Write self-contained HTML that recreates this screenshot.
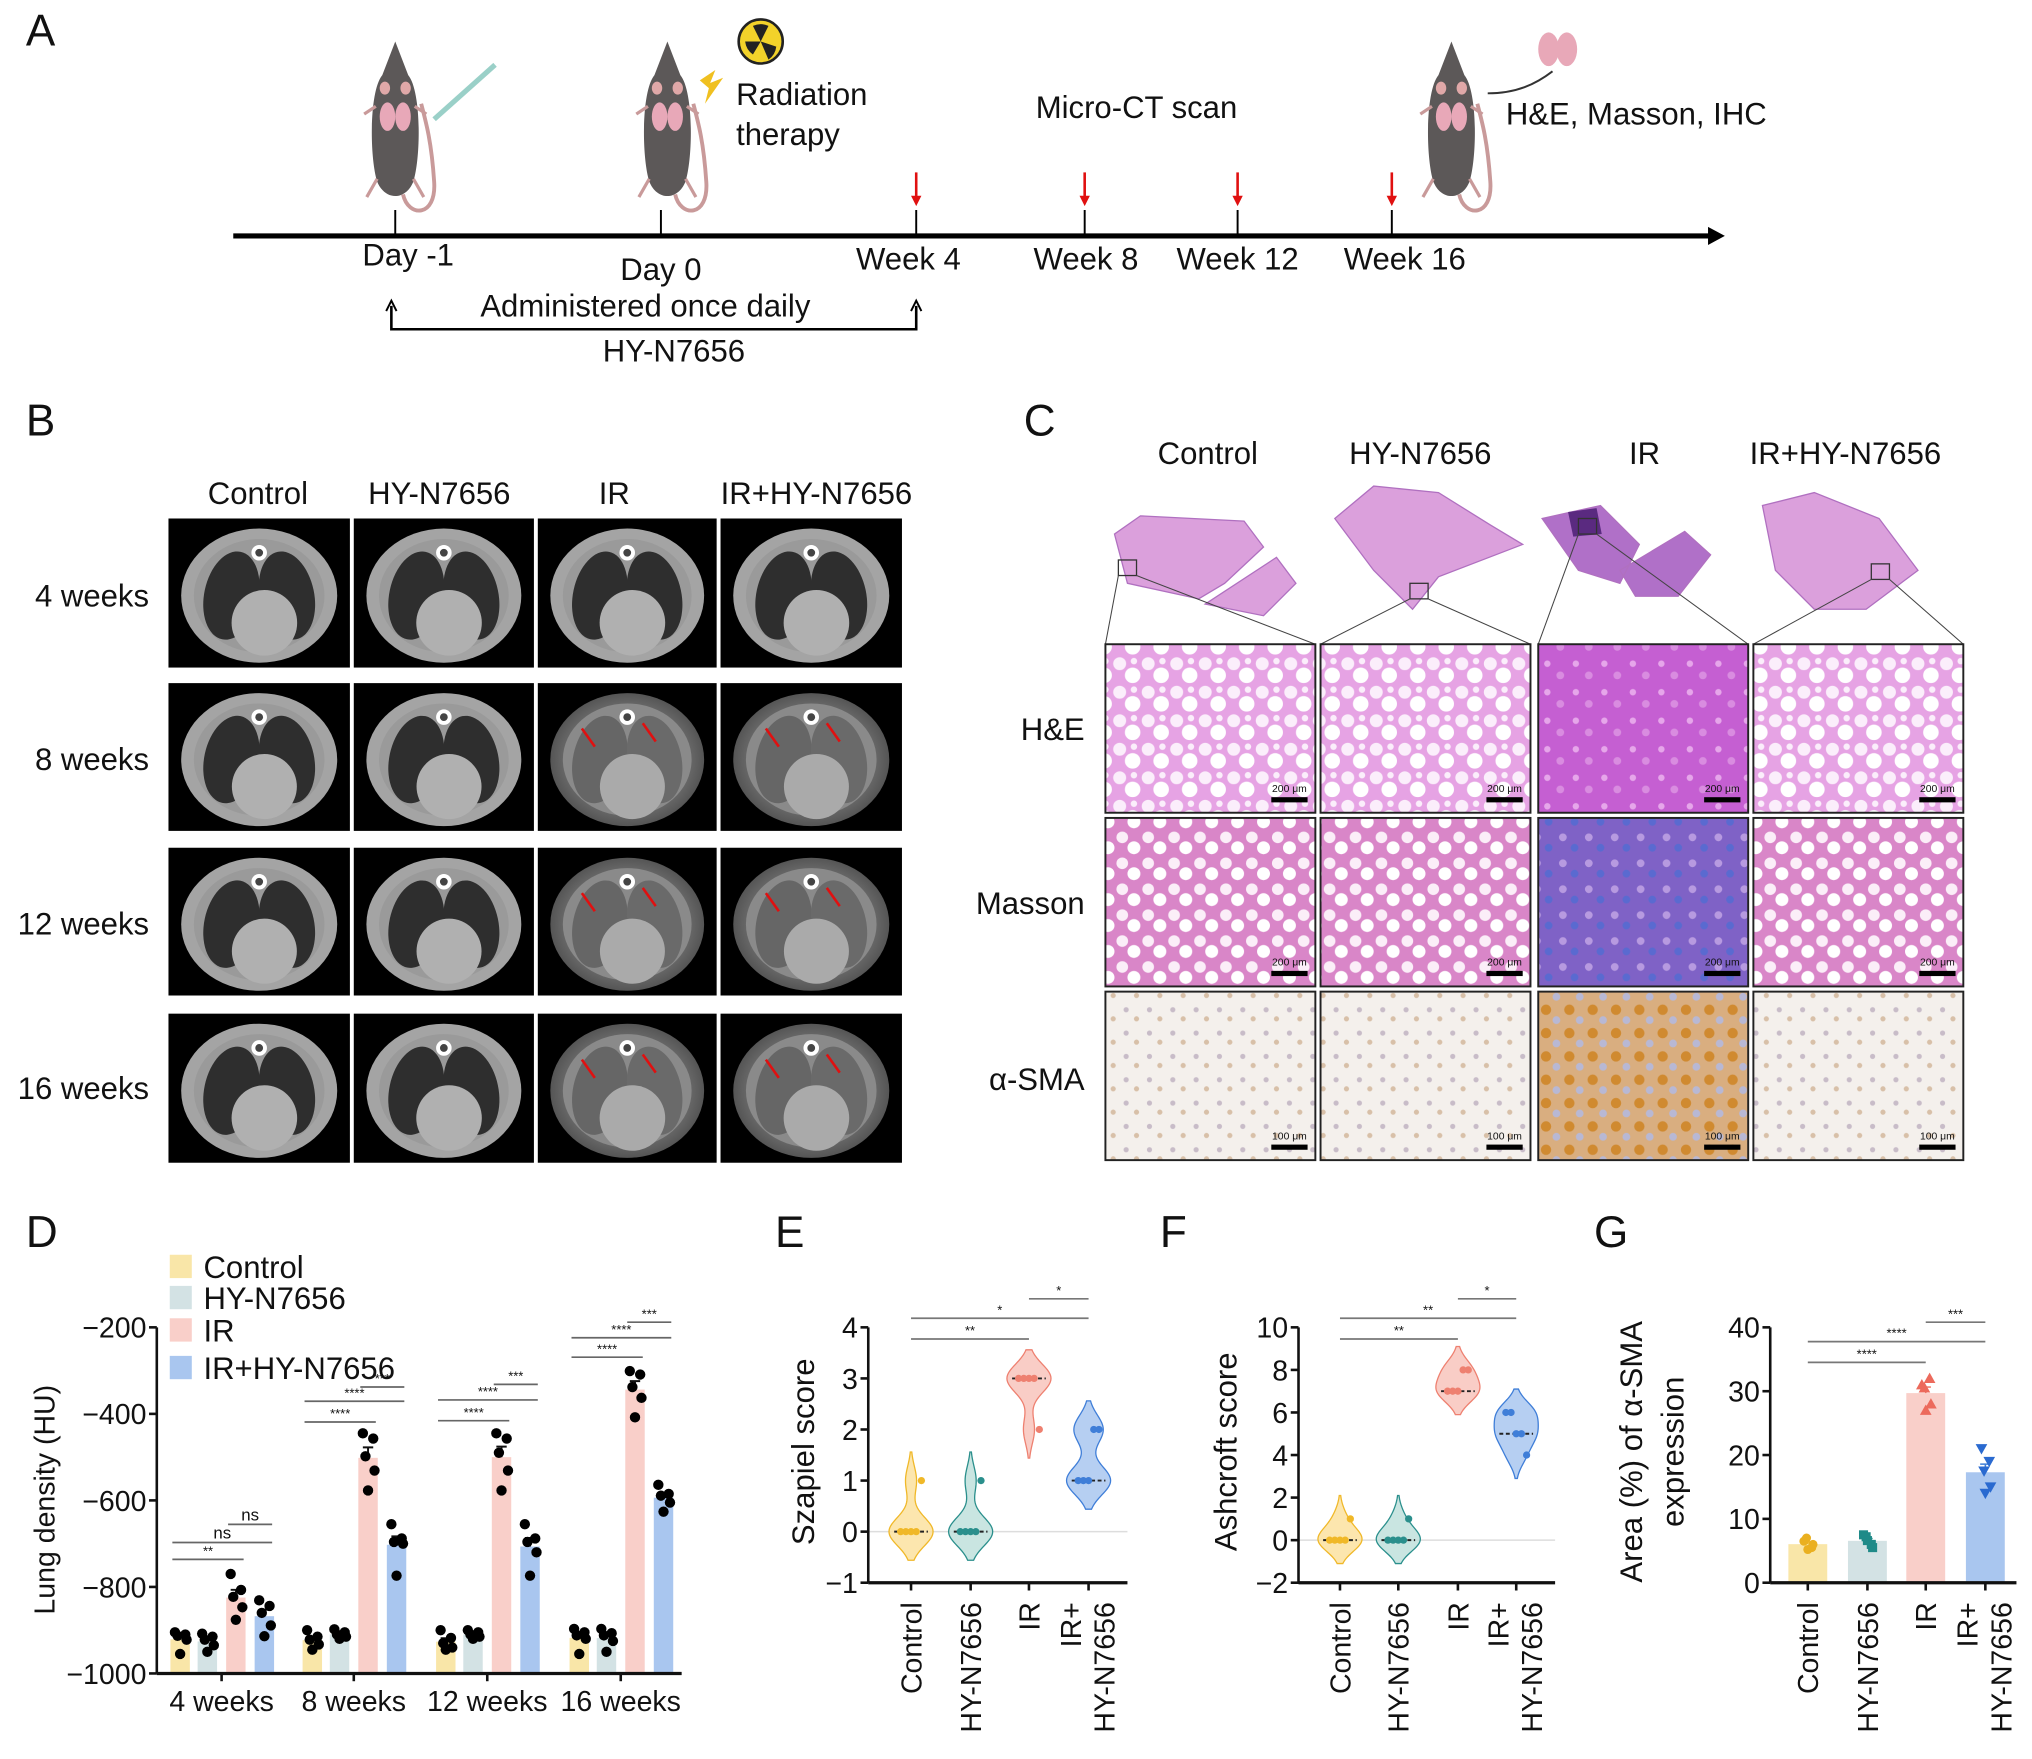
<!DOCTYPE html>
<html><head><meta charset="utf-8">
<style>
html,body{margin:0;padding:0;background:#fff;}
svg{display:block;font-family:"Liberation Sans",sans-serif;}
text{font-family:"Liberation Sans","DejaVu Sans",sans-serif;}
</style></head>
<body>
<svg id="fig" xmlns="http://www.w3.org/2000/svg" width="2032" height="1759" viewBox="0 0 1568 1357" preserveAspectRatio="none">
<defs>
<pattern id="pHE" width="22" height="22" patternUnits="userSpaceOnUse"><rect width="22" height="22" fill="#e6a3e4"/><circle cx="6" cy="6" r="5" fill="#fbeefb"/><circle cx="16" cy="15" r="6" fill="#fff"/><circle cx="17" cy="4" r="2.5" fill="#fbeefb"/></pattern>
<pattern id="pHEir" width="22" height="22" patternUnits="userSpaceOnUse"><rect width="22" height="22" fill="#c55fd2"/><circle cx="6" cy="6" r="2.5" fill="#e6a6ea"/><circle cx="16" cy="15" r="3" fill="#d98ce0"/></pattern>
<pattern id="pMS" width="20" height="20" patternUnits="userSpaceOnUse"><rect width="20" height="20" fill="#d986c8"/><circle cx="6" cy="6" r="4.5" fill="#fbeef8"/><circle cx="15" cy="14" r="5" fill="#fff"/></pattern>
<pattern id="pMSir" width="20" height="20" patternUnits="userSpaceOnUse"><rect width="20" height="20" fill="#7f62c6"/><circle cx="6" cy="6" r="3" fill="#b79ae0"/><circle cx="15" cy="14" r="3" fill="#5a6ad0"/></pattern>
<pattern id="pSM" width="18" height="18" patternUnits="userSpaceOnUse"><rect width="18" height="18" fill="#f4f0ec"/><circle cx="5" cy="5" r="2" fill="#c8bcc8"/><circle cx="13" cy="12" r="2" fill="#d8c0a8"/></pattern>
<pattern id="pSMir" width="18" height="18" patternUnits="userSpaceOnUse"><rect width="18" height="18" fill="#d9ae80"/><circle cx="5" cy="5" r="4" fill="#d08a30"/><circle cx="13" cy="13" r="3" fill="#b8b8d4"/></pattern>
<radialGradient id="gIR"><stop offset="0" stop-color="#bdbdbd"/><stop offset="1" stop-color="#555"/></radialGradient>
</defs>
</svg>
<script>
const NS='http://www.w3.org/2000/svg';
const svg=document.getElementById('fig');
function mk(tag,attrs,parent){const e=document.createElementNS(NS,tag);for(const k in attrs)e.setAttribute(k,attrs[k]);(parent||svg).appendChild(e);return e;}
function tx(str,x,y,size,anchor,parent,extra){const e=mk('text',Object.assign({x:x,y:y,'font-size':size,'text-anchor':anchor||'start',fill:'#111'},extra||{}),parent);e.textContent=str;return e;}

/* ================= Panel A ================= */
const gA=mk('g',{});


let t=tx('A',20,35,34,'start',gA);

mk('line',{x1:180,y1:182,x2:1320,y2:182,stroke:'#000','stroke-width':4},gA);
mk('path',{d:'M1318,175 L1331,182 L1318,189 Z',fill:'#000'},gA);
const aTicks=[305,510,707,837,955,1074];
aTicks.forEach(x=>mk('line',{x1:x,y1:162,x2:x,y2:182,stroke:'#000','stroke-width':1.5},gA));
[707,837,955,1074].forEach(x=>{mk('line',{x1:x,y1:133,x2:x,y2:154,stroke:'#e01010','stroke-width':2},gA);mk('path',{d:`M${x-4},151 L${x},159 L${x+4},151 Z`,fill:'#e01010'},gA);});
tx('Day -1',315,205,24,'middle',gA);tx('Day 0',510,216,24,'middle',gA);
tx('Week 4',701,208,24,'middle',gA);tx('Week 8',838,208,24,'middle',gA);tx('Week 12',955,208,24,'middle',gA);tx('Week 16',1084,208,24,'middle',gA);
tx('Administered once daily',498,244,24,'middle',gA);tx('HY-N7656',520,279,24,'middle',gA);
mk('path',{d:'M302,236 L302,254 L707,254 L707,236',fill:'none',stroke:'#000','stroke-width':2},gA);
mk('path',{d:'M298,240 L302,232 L306,240',fill:'none',stroke:'#000','stroke-width':1.5},gA);
mk('path',{d:'M703,240 L707,232 L711,240',fill:'none',stroke:'#000','stroke-width':1.5},gA);
tx('Radiation',568,81,24,'start',gA);tx('therapy',568,112,24,'start',gA);
tx('Micro-CT scan',877,91,24,'middle',gA);tx('H&E, Masson, IHC',1162,96,24,'start',gA);
function mouse(cx){
  const g=mk('g',{},gA);
  
  mk('path',{d:`M${cx+6},150 C${cx+10},168 ${cx+32},168 ${cx+30},140 C${cx+28},110 ${cx+24},95 ${cx+20},80`,fill:'none',stroke:'#c99a9a','stroke-width':3},g);
  mk('path',{d:`M${cx},32 L${cx-10},58 C${cx-20},70 ${cx-20},120 ${cx-14},140 C${cx-8},155 ${cx+8},155 ${cx+14},140 C${cx+20},120 ${cx+20},70 ${cx+10},58 Z`,fill:'#5c5858'},g);
  mk('ellipse',{cx:cx-8,cy:68,rx:4,ry:5,fill:'#e0a8a8'},g);mk('ellipse',{cx:cx+8,cy:68,rx:4,ry:5,fill:'#e0a8a8'},g);
  mk('ellipse',{cx:cx-6,cy:90,rx:6,ry:11,fill:'#e8a8b8'},g);mk('ellipse',{cx:cx+6,cy:90,rx:6,ry:11,fill:'#e8a8b8'},g);
  mk('path',{d:`M${cx-14},138 l-8,14 M${cx+14},138 l8,14 M${cx-15},82 l-9,6 M${cx+15},82 l9,6`,stroke:'#c99a9a','stroke-width':2.5},g);
}
mouse(305);mouse(515);mouse(1120);
mk('line',{x1:335,y1:92,x2:382,y2:50,stroke:'#9ad0c8','stroke-width':4},gA);
mk('circle',{cx:587,cy:32,r:17,fill:'#f2d22a',stroke:'#222','stroke-width':2},gA);
mk('path',{d:'M587,32 l-6,-12 a14,14 0 0 1 12,0 Z M587,32 l12,4 a14,14 0 0 1 -6,10 Z M587,32 l-6,10 a14,14 0 0 1 -6,-10 Z',fill:'#222'},gA);
mk('path',{d:'M540,62 l12,-8 l-4,10 l10,-4 l-14,20 l3,-12 z',fill:'#f0c020'},gA);
mk('ellipse',{cx:1195,cy:38,rx:8,ry:13,fill:'#e8a8b8'},gA);mk('ellipse',{cx:1209,cy:38,rx:8,ry:13,fill:'#e8a8b8'},gA);
mk('path',{d:'M1148,72 C1170,72 1185,65 1198,55',fill:'none',stroke:'#333','stroke-width':1.5},gA);

/* ================= Panel B ================= */
const gB=mk('g',{});

t=tx('B',20,336,34,'start',gB);
const bCols=['Control','HY-N7656','IR','IR+HY-N7656'];
const bRows=['4 weeks','8 weeks','12 weeks','16 weeks'];
const bColX=[130,273,415,556], bColW=[140,139,138,140];
const bRowY=[400,527,654,782], bRowH=[115,114,114,115];
[199,339,474,630].forEach((x,i)=>tx(bCols[i],x,389,24,'middle',gB));
[468,594,721,848].forEach((y,i)=>tx(bRows[i],115,y,24,'end',gB));
for(let r=0;r<4;r++)for(let c=0;c<4;c++){
  const x=bColX[c],y=bRowY[r],w=bColW[c],h=bRowH[r],cx=x+w/2,cy=y+h/2;
  const g=mk('g',{},gB);
  
  mk('rect',{x:x,y:y,width:w,height:h,fill:'#000'},g);
  const ir=(c>=2&&r>=1);
  mk('ellipse',{cx:cx,cy:cy+2,rx:w*0.43,ry:h*0.45,fill:ir?'url(#gIR)':'#a4a4a4'},g);
  mk('ellipse',{cx:cx,cy:cy+2,rx:w*0.36,ry:h*0.38,fill:ir?'#8a8a8a':'#9a9a9a'},g);
  mk('ellipse',{cx:cx-w*0.15,cy:cy+2,rx:w*0.15,ry:h*0.3,fill:ir?'#666':'#2e2e2e',transform:`rotate(12 ${cx-w*0.15} ${cy})`},g);
  mk('ellipse',{cx:cx+w*0.15,cy:cy+2,rx:w*0.15,ry:h*0.3,fill:ir?'#6a6a6a':'#2e2e2e',transform:`rotate(-12 ${cx+w*0.15} ${cy})`},g);
  mk('circle',{cx:cx+4,cy:cy+h*0.2,r:h*0.22,fill:ir?'#aaa':'#b0b0b0'},g);
  mk('circle',{cx:cx,cy:cy-h*0.27,r:6,fill:'#fff'},g);
  mk('circle',{cx:cx,cy:cy-h*0.27,r:3,fill:'#444'},g);
  if(ir){[[-25,-8],[22,-12]].forEach(([dx,dy])=>{mk('line',{x1:cx+dx-10,y1:cy+dy-14,x2:cx+dx,y2:cy+dy,stroke:'#e01010','stroke-width':2},g);});}
}

/* ================= Panel C ================= */
const gC=mk('g',{});

t=tx('C',790,336,34,'start',gC);
const cCols=['Control','HY-N7656','IR','IR+HY-N7656'];
const cRows=['H&E','Masson','α-SMA'];
[932,1096,1269,1424].forEach((x,i)=>tx(cCols[i],x,358,24,'middle',gC));
[571,705,841].forEach((y,i)=>tx(cRows[i],837,y,24,'end',gC));
const cX=[853,1019,1187,1353], cY=[497,631,765];
const sec=['M860,412 L880,398 L960,402 L975,422 L945,450 L925,462 L870,450 Z M930,466 L985,430 L1000,450 L975,475 Z',
 'M1030,400 L1060,375 L1110,380 L1150,405 L1175,420 L1110,445 L1090,470 L1060,440 Z',
 'M1190,400 L1235,390 L1265,420 L1250,450 L1218,440 Z M1250,440 L1300,410 L1320,428 L1295,460 L1262,460 Z',
 'M1360,390 L1400,380 L1450,400 L1480,440 L1440,470 L1400,470 L1370,440 Z'];
sec.forEach((d,i)=>{const p=mk('path',{d:d,fill:i==2?'#b070c8':'#dba0dc',stroke:'#b070c0','stroke-width':1},gC);});
mk('path',{d:'M1210,395 L1232,392 L1236,412 L1214,414 Z',fill:'#5a2a80'},gC);
[[863,432],[1088,450],[1218,400],[1444,435]].forEach(([x,y],i)=>{mk('rect',{x:x,y:y,width:14,height:12,fill:'none',stroke:'#333'},gC);
 mk('line',{x1:x,y1:y+12,x2:cX[i],y2:497,stroke:'#444','stroke-width':0.8},gC);mk('line',{x1:x+14,y1:y+12,x2:cX[i]+162,y2:497,stroke:'#444','stroke-width':0.8},gC);});
const fills=[['url(#pHE)','url(#pHE)','url(#pHEir)','url(#pHE)'],['url(#pMS)','url(#pMS)','url(#pMSir)','url(#pMS)'],['url(#pSM)','url(#pSM)','url(#pSMir)','url(#pSM)']];
for(let r=0;r<3;r++)for(let c=0;c<4;c++){
  const g=mk('g',{},gC);
  
  mk('rect',{x:cX[c],y:cY[r],width:162,height:130,fill:fills[r][c],stroke:'#222','stroke-width':1.5},g);
  mk('rect',{x:cX[c]+128,y:cY[r]+118,width:28,height:4,fill:'#000'},g);
  tx(r<2?'200 μm':'100 μm',cX[c]+142,cY[r]+114,8,'middle',g);
}

/* ================= Panel D ================= */
const dGroups=['4 weeks','8 weeks','12 weeks','16 weeks'];
const dSeries=['Control','HY-N7656','IR','IR+HY-N7656'];
const dColors=['#f9e6a8','#d3e2e4','#f9cfc9','#a9c6ef'];
const dCtrl=[[-905,-910,-913,-922,-955],[-900,-915,-922,-933,-945],[-900,-918,-930,-940,-945],[-897,-905,-912,-920,-955]];
const dHY=[[-908,-915,-922,-935,-950],[-898,-905,-910,-915,-920],[-900,-905,-910,-915,-920],[-897,-907,-912,-925,-950]];
const dIR=[[-770,-807,-823,-847,-876],[-445,-457,-498,-531,-577],[-445,-457,-490,-531,-577],[-301,-309,-338,-363,-408]];
const dIRHY=[[-831,-844,-860,-889,-914],[-655,-688,-696,-700,-774],[-655,-688,-696,-720,-774],[-564,-585,-589,-605,-626]];
const dTicks=[-1000,-800,-600,-400,-200];
const dSig=[['**',0,2,1203],['ns',0,3,1190],['ns',2,3,1176]];
const dSigBig=[[['****',0,2,1097],['****',0,3,1081],['***',2,3,1070]],[['****',0,2,1096],['****',0,3,1080],['***',2,3,1068]],[['****',0,2,1047],['****',0,3,1032],['***',2,3,1020]]];
const dAll=[dCtrl,dHY,dIR,dIRHY];
const dX0=121,dX1=526,dY0=1291,dY1=1024,dMin=-1000,dMax=-200;
const dGroupX=[171,273,376,479], dOff=[-32,-11,11,33];
function dY(v){return dY0-(v-dMin)/(dMax-dMin)*(dY0-dY1);}
const gD=mk('g',{});

t=tx('D',20,962,34,'start',gD);
function mean(a){return a.reduce((s,v)=>s+v,0)/a.length;}
function sem(a){const m=mean(a);return Math.sqrt(a.reduce((s,v)=>s+(v-m)*(v-m),0)/(a.length-1))/Math.sqrt(a.length);}
const jit=[-4,4,-2,5,0];
for(let gi=0;gi<dGroups.length;gi++){
  for(let si=0;si<dSeries.length;si++){
    const pts=dAll[si][gi],cx=dGroupX[gi]+dOff[si],m=mean(pts);
    const b=mk('rect',{x:cx-7.5,y:dY(m),width:15,height:dY0-dY(m),fill:dColors[si]},gD);
    
    
    const e=sem(pts);
    mk('path',{d:`M${cx},${dY(m)} V${dY(m+e)} M${cx-4},${dY(m+e)} H${cx+4}`,stroke:'#111','stroke-width':1.5},gD);
    pts.forEach((v,k)=>{const c=mk('circle',{cx:cx+jit[k],cy:dY(v),r:4,fill:'#000'},gD);
      });
  }
  const sig=gi==0?dSig:dSigBig[gi-1];
  sig.forEach(([s,a,b2,y])=>{const x1=dGroupX[gi]+dOff[a]-6,x2=dGroupX[gi]+dOff[b2]+6;
    mk('line',{x1:x1,y1:y,x2:x2,y2:y,stroke:'#666','stroke-width':1.3},gD);
    tx(s,(x1+x2)/2,y-3,s=='ns'?13:10,'middle',gD);});
  mk('line',{x1:dGroupX[gi],y1:dY0,x2:dGroupX[gi],y2:dY0+6,stroke:'#111','stroke-width':2},gD);
  const l=tx(dGroups[gi],dGroupX[gi],1320,22,'middle',gD);
  
}
mk('line',{x1:dX0,y1:dY1,x2:dX0,y2:dY0,stroke:'#111','stroke-width':2},gD);
mk('line',{x1:dX0,y1:dY0,x2:dX1,y2:dY0,stroke:'#111','stroke-width':2.5},gD);
dTicks.forEach(v=>{mk('line',{x1:dX0-6,y1:dY(v),x2:dX0,y2:dY(v),stroke:'#111','stroke-width':2},gD);
  const l=tx(String(v).replace('-','−'),dX0-8,dY(v)+8,22,'end',gD);
  });
t=tx('Lung density (HU)',0,0,22,'middle',gD,{transform:'translate(42 1157) rotate(-90)'});

[977,1001,1026,1055].forEach((y,i)=>{const g=mk('g',{},gD);
  
  mk('rect',{x:131,y:y-9,width:17,height:18,fill:dColors[i]},g);tx(dSeries[i],157,y+9,24,'start',g);});

/* ================= Violin panels E/F ================= */
const eCats=['Control','HY-N7656','IR','IR+HY-N7656'];
const eVals=[[0,0,0,0,1],[0,0,0,0,1],[3,3,3,3,2],[1,1,1,2,2]];
const eTicks=[-1,0,1,2,3,4];
const fVals=[[0,0,0,0,1],[0,0,0,0,1],[7,7,7,8,8],[6,6,5,5,4]];
const fTicks=[-2,0,2,4,6,8,10];
const vFill=['#fbe2a0','#bfe0dc','#f8c4bc','#a9c7f0'];
const vStroke=['#f0b828','#2a8f8c','#ee8070','#3f7ed8'];
const gVals=[[6.5,5.5,7,6,5.2],[7.5,6,7.2,5.5,6.6],[31,32,30.5,28,27],[21,19,17.5,15,14]];
const gTicks=[0,10,20,30,40];
function quant(a,q){const s=[...a].sort((x,y)=>x-y);const p=(s.length-1)*q;const lo=Math.floor(p);return s[lo]+(s[Math.min(lo+1,s.length-1)]-s[lo])*(p-lo);}
function catLabels(g,xs,names,yTop){
  names.forEach((n,i)=>{
    if(n.indexOf('+')>0){const parts=['IR+','HY-N7656'];
      let l=tx(parts[0],0,0,22,'end',g,{transform:`translate(${xs[i]-6} ${yTop}) rotate(-90)`});
      l=tx(parts[1],0,0,22,'end',g,{transform:`translate(${xs[i]+20} ${yTop}) rotate(-90)`});
    }else{const l=tx(n,0,0,22,'end',g,{transform:`translate(${xs[i]+8} ${yTop}) rotate(-90)`});}
  });
}
function axes(g,x0,x1,y0,y1,ticks,yfn,xs){
  mk('line',{x1:x0,y1:y1,x2:x0,y2:y0,stroke:'#111','stroke-width':2},g);
  mk('line',{x1:x0,y1:y0,x2:x1,y2:y0,stroke:'#111','stroke-width':2.5},g);
  ticks.forEach(v=>{mk('line',{x1:x0-6,y1:yfn(v),x2:x0,y2:yfn(v),stroke:'#111','stroke-width':2},g);
    const l=tx(String(v).replace('-','−'),x0-8,yfn(v)+8,22,'end',g);});
  xs.forEach(x=>mk('line',{x1:x,y1:y0,x2:x,y2:y0+6,stroke:'#111','stroke-width':2},g));
}
function sigBars(g,xs,list){list.forEach(([s,a,b,y])=>{mk('line',{x1:xs[a],y1:y,x2:xs[b],y2:y,stroke:'#777','stroke-width':1.3},g);tx(s,(xs[a]+xs[b])/2,y-3,10,'middle',g);});}
function violinPanel(name,letter,lx,vals,ticks,x0,x1,xs,bw,title,titleX,sig){
  const y0=1221,y1=1024,lo=ticks[0],hi=ticks[ticks.length-1];
  const yf=v=>y0-(v-lo)/(hi-lo)*(y0-y1);
  const g=mk('g',{});
  
  let l=tx(letter,lx,962,34,'start',g);
  mk('line',{x1:x0,y1:yf(0),x2:x1,y2:yf(0),stroke:'#ddd','stroke-width':1.2},g);
  vals.forEach((arr,i)=>{
    const mn=Math.min(...arr)-2*bw,mx=Math.max(...arr)+2*bw,N=60,dens=[];
    for(let k=0;k<=N;k++){const v=mn+(mx-mn)*k/N;dens.push([v,arr.reduce((s,a)=>s+Math.exp(-0.5*((v-a)/bw)**2),0)]);}
    const dm=Math.max(...dens.map(d=>d[1]));
    let d='M'+dens.map(([v,q])=>`${xs[i]+q/dm*17},${yf(v)}`).join(' L');
    d+=' L'+dens.slice().reverse().map(([v,q])=>`${xs[i]-q/dm*17},${yf(v)}`).join(' L')+' Z';
    const p=mk('path',{d:d,fill:vFill[i],stroke:vStroke[i],'stroke-width':1,'fill-opacity':0.85},g);
    
    
    const md=quant(arr,0.5);
    mk('line',{x1:xs[i]-13,y1:yf(md),x2:xs[i]+13,y2:yf(md),stroke:'#222','stroke-width':1.5,'stroke-dasharray':'3,2'},g);
    arr.forEach((v,k)=>{const c=mk('circle',{cx:xs[i]+(k-2)*4,cy:yf(v),r:2.8,fill:vStroke[i]},g);});
  });
  axes(g,x0,x1,y0,y1,ticks,yf,xs);
  sigBars(g,xs,sig);
  l=tx(title,0,0,24,'middle',g,{transform:`translate(${titleX} 1120) rotate(-90)`});
  catLabels(g,xs,eCats,1236);
}
violinPanel('panel-e-szapiel-chart','E',598,eVals,eTicks,670,870,[703,749,794,840],0.28,'Szapiel score',628,[['**',0,2,1033],['*',0,3,1017],['*',2,3,1002]]);
violinPanel('panel-f-ashcroft-chart','F',895,fVals,fTicks,1002,1200,[1034,1079,1125,1170],0.55,'Ashcroft score',954,[['**',0,2,1033],['**',0,3,1017],['*',2,3,1002]]);

/* ================= Panel G ================= */
(function(){
  const y0=1221,y1=1024,x0=1366,x1=1556,xs=[1395,1441,1486,1532];
  const yf=v=>y0-(v-gTicks[0])/(gTicks[gTicks.length-1]-gTicks[0])*(y0-y1);
  const g=mk('g',{});
  
  let l=tx('G',1230,962,34,'start',g);
  const mk2=['circle','square','tri','itri'];
  gVals.forEach((arr,i)=>{
    const m=mean(arr),e=sem(arr);
    const b=mk('rect',{x:xs[i]-15,y:yf(m),width:30,height:y0-yf(m),fill:dColors[i]},g);
    
    
    mk('path',{d:`M${xs[i]},${yf(m)} V${yf(m+e)} M${xs[i]-4},${yf(m+e)} H${xs[i]+4}`,stroke:vStroke[i],'stroke-width':1.2},g);
    arr.forEach((v,k)=>{const cx=xs[i]+[-3,3,-1,4,0][k],cy=yf(v);let s;
      if(mk2[i]=='circle')s=mk('circle',{cx:cx,cy:cy,r:3.5,fill:'#eab020'},g);
      else if(mk2[i]=='square')s=mk('rect',{x:cx-3.5,y:cy-3.5,width:7,height:7,fill:'#1f8a88'},g);
      else if(mk2[i]=='tri')s=mk('path',{d:`M${cx},${cy-4.5} L${cx+4.5},${cy+3.5} L${cx-4.5},${cy+3.5} Z`,fill:'#ec6a5c'},g);
      else s=mk('path',{d:`M${cx},${cy+4.5} L${cx+4.5},${cy-3.5} L${cx-4.5},${cy-3.5} Z`,fill:'#2a6ad0'},g);
      });
  });
  axes(g,x0,x1,y0,y1,gTicks,yf,xs);
  sigBars(g,xs,[['****',0,2,1051],['****',0,3,1035],['***',2,3,1020]]);
  l=tx('Area (%) of α-SMA',0,0,24,'middle',g,{transform:'translate(1267 1120) rotate(-90)'});
  l=tx('expression',0,0,24,'middle',g,{transform:'translate(1299 1120) rotate(-90)'});
  const names=['Control','HY-N7656','IR'];
  names.forEach((n,i)=>{const a=tx(n,0,0,22,'end',g,{transform:`translate(${xs[i]+8} 1236) rotate(-90)`});});
  let a=tx('IR+',0,0,22,'end',g,{transform:`translate(${xs[3]-6} 1236) rotate(-90)`});
  a=tx('HY-N7656',0,0,22,'end',g,{transform:`translate(${xs[3]+20} 1236) rotate(-90)`});
})();
</script>
</body></html>
